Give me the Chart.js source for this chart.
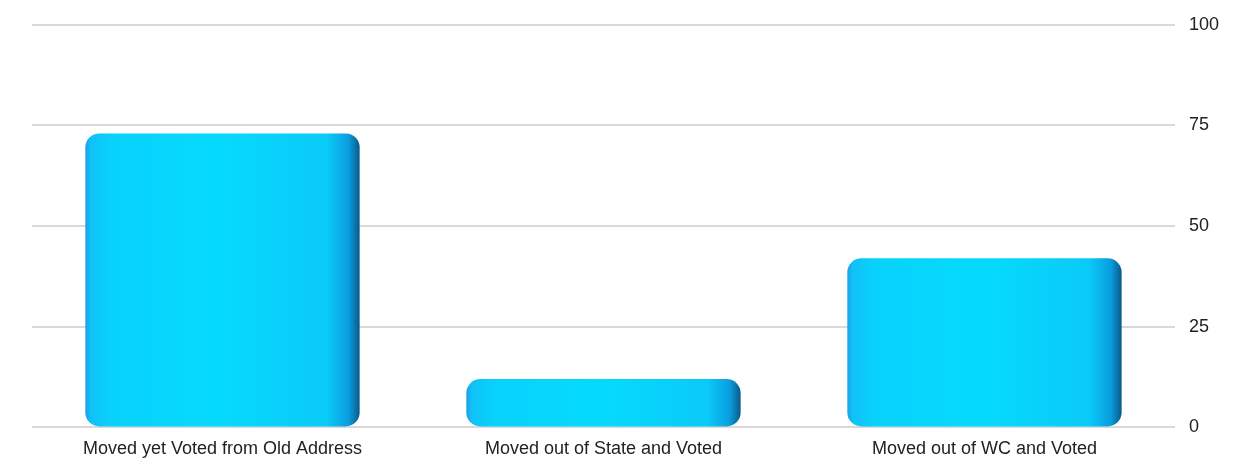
<!DOCTYPE html>
<html>
<head>
<meta charset="utf-8">
<script src="https://cdn.jsdelivr.net/npm/chart.js@4"></script>
<style>
  html, body { margin: 0; padding: 0; background: #fff; }
  #wrap { width: 1257px; height: 463px; }
</style>
</head>
<body>
<div id="wrap"><canvas id="grafico"></canvas></div>
<script>
// datos
const categorias = ['Moved yet Voted from Old Address', 'Moved out of State and Voted', 'Moved out of WC and Voted'];
const valores = [73, 12, 42];
const ticksY = [0, 25, 50, 75, 100];

const anchoBarra = 0.72;

// degradado horizontal para dar aspecto de cilindro
function colorCilindro(c) {
    const chart = c.chart;
    const xs = chart.scales.x;
    if (!chart.chartArea || !xs || c.dataIndex === undefined) return '#06d8fd';
    const cx = xs.getPixelForValue(c.dataIndex);
    const w = xs.width / categorias.length * anchoBarra;
    const g = chart.ctx.createLinearGradient(cx - w / 2, 0, cx + w / 2, 0);
    g.addColorStop(0, '#1e9fe8');
    g.addColorStop(0.02, '#10c2f7');
    g.addColorStop(0.1, '#08d2fc');
    g.addColorStop(0.5, '#05dafe');
    g.addColorStop(0.88, '#0acaf8');
    g.addColorStop(0.96, '#0a9ddf');
    g.addColorStop(1, '#0a5a88');
    return g;
}

const ctx = document.getElementById('grafico').getContext('2d');

new Chart(ctx, {
    type: 'bar',
    data: {
        labels: categorias,
        datasets: [{
            data: valores,
            backgroundColor: colorCilindro,
            borderRadius: 14,
            borderSkipped: false,
            barPercentage: anchoBarra,
            categoryPercentage: 1
        }]
    },
    options: {
        responsive: true,
        maintainAspectRatio: false,
        animation: false,
        layout: { padding: { top: 8, right: 24, left: 32, bottom: 0 } },
        plugins: {
            legend: { display: false },
            tooltip: { enabled: false }
        },
        scales: {
            x: {
                grid: { display: false },
                border: { display: false },
                ticks: {
                    color: '#222',
                    font: { family: 'Liberation Sans', size: 18 },
                    padding: 3,
                    maxRotation: 0
                }
            },
            y: {
                position: 'right',
                min: 0,
                max: 100,
                afterBuildTicks: axis => { axis.ticks = ticksY.map(v => ({ value: v })); },
                grid: { color: '#d9d9d9', lineWidth: 2, drawTicks: false },
                border: { display: false },
                ticks: {
                    color: '#222',
                    font: { family: 'Liberation Sans', size: 18 },
                    padding: 14
                }
            }
        }
    }
});
</script>
</body>
</html>
